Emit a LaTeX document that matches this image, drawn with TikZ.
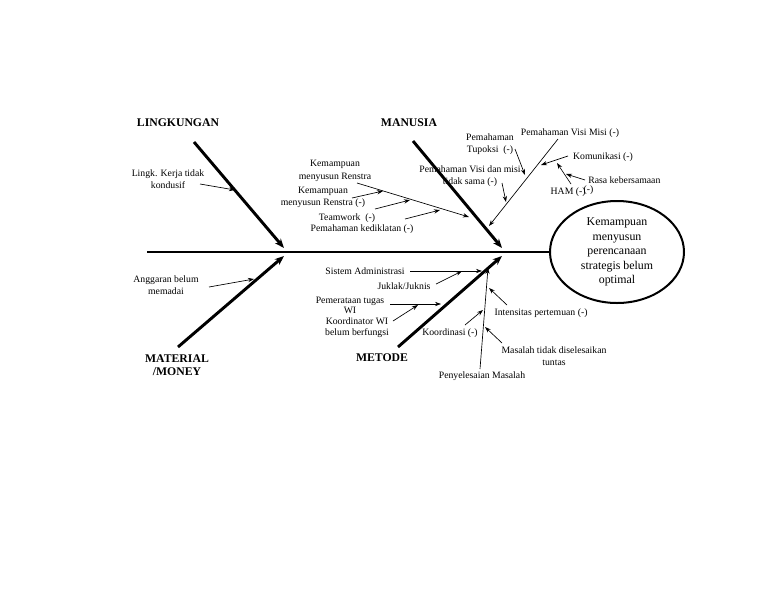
\documentclass[tikz,border=0pt]{standalone}
\usepackage{fontspec}
\setmainfont{Liberation Serif}
\usetikzlibrary{arrows.meta,shapes.geometric}
\begin{document}
\begin{tikzpicture}[x=0.75pt,y=-0.75pt,
 lbl/.style={font=\fontsize{7.3}{9.2}\selectfont, align=center, inner sep=0pt},
 hdr/.style={font=\fontsize{8.8}{9.75}\selectfont\bfseries, align=center, inner sep=0pt},
 bone/.style={line width=2.2pt, -{Stealth[length=7pt,width=5.5pt]}},
 sub/.style={line width=0.5pt, -{Stealth[length=4.5pt,width=3.2pt]}},
]
\useasboundingbox (0,0) rectangle (768,594);
% effect
\node[ellipse, draw, line width=1.5pt, minimum width=100.5pt, minimum height=76.5pt, inner sep=0pt,
      font=\fontsize{8.9}{10.9}\selectfont, align=center] (goal) at (617,252)
  {Kemampuan\\menyusun\\perencanaan\\strategis belum\\optimal};
\coordinate (spineL) at (147,252);
\draw[line width=2.2pt] (spineL) -- (goal.west);
% headers
\node[hdr] (hLing) at (178,123) {LINGKUNGAN};
\node[hdr] (hMan) at (409,123) {MANUSIA};
\node[hdr] (hMat) at (177,365.5) {MATERIAL\\/MONEY};
\node[hdr] (hMet) at (382,358) {METODE};
% main bones
\coordinate (lingS) at (194,142); \coordinate (lingE) at (284,248);
\coordinate (manS) at (413,141);  \coordinate (manE) at (502,248);
\coordinate (matS) at (178,347);  \coordinate (matE) at (284,256);
\coordinate (metS) at (398,347);  \coordinate (metE) at (502,256);
\draw[bone] (lingS) -- (lingE);
\draw[bone] (manS) -- (manE);
\draw[bone] (matS) -- (matE);
\draw[bone] (metS) -- (metE);
% LINGKUNGAN
\node[lbl] (tLing) at (168,179.5) {Lingk. Kerja tidak\\kondusif};
\coordinate (aLing1) at (200,184); \coordinate (aLing2) at (235,190);
\draw[sub] (aLing1) -- (aLing2);
% MATERIAL
\node[lbl] (tAng) at (166,285) {Anggaran belum\\memadai};
\coordinate (aAng1) at (209,287); \coordinate (aAng2) at (254,279);
\draw[sub] (aAng1) -- (aAng2);
% MANUSIA - Renstra
\node[lbl, font=\fontsize{7.3}{9.75}\selectfont] (tRen) at (335,170.5) {Kemampuan\\menyusun Renstra};
\coordinate (ren1) at (357,183); \coordinate (ren2) at (469,217);
\draw[sub] (ren1) -- (ren2);
\node[lbl] (tRen2) at (323,197.5) {Kemampuan\\menyusun Renstra (-)};
\coordinate (aRen1) at (352,198); \coordinate (aRen2) at (383,191);
\draw[sub] (aRen1) -- (aRen2);
\node[lbl] (tTeam) at (347,218) {Teamwork\ \ (-)};
\coordinate (aTeam1) at (375,209); \coordinate (aTeam2) at (410,200);
\draw[sub] (aTeam1) -- (aTeam2);
\node[lbl] (tDik) at (362,229) {Pemahaman kediklatan (-)};
\coordinate (aDik1) at (405,219); \coordinate (aDik2) at (440,210);
\draw[sub] (aDik1) -- (aDik2);
% MANUSIA - Visi Misi
\node[lbl] (tVM) at (570,133) {Pemahaman Visi Misi (-)};
\coordinate (vm1) at (558,139); \coordinate (vm2) at (489,226);
\draw[sub] (vm1) -- (vm2);
\node[lbl] (tTup) at (490,144) {Pemahaman\\Tupoksi\ \ (-)};
\coordinate (aTup1) at (515,149); \coordinate (aTup2) at (525,175);
\draw[sub] (aTup1) -- (aTup2);
\node[lbl] (tVdm) at (470,176) {Pemahaman Visi dan misi\\tidak sama (-)};
\coordinate (aVdm1) at (502,183); \coordinate (aVdm2) at (506,202);
\draw[sub] (aVdm1) -- (aVdm2);
\node[lbl] (tKom) at (603,157) {Komunikasi (-)};
\coordinate (aKom1) at (568,156); \coordinate (aKom2) at (541,165);
\draw[sub] (aKom1) -- (aKom2);
\node[lbl] (tHam) at (572,191) {HAM (-)\kern-1.5pt\raisebox{1pt}{(-)}};
\coordinate (ham1) at (571,184); \coordinate (ham2) at (557,163);
\draw[sub] (ham1) -- (ham2);
\node[lbl, anchor=west] (tRasa) at (588,180) {Rasa kebersamaan};
\coordinate (aRasa1) at (585,180); \coordinate (aRasa2) at (566,174);
\draw[sub] (aRasa1) -- (aRasa2);
% METODE
\node[lbl] (tSis) at (365,271) {Sistem Administrasi};
\coordinate (sis1) at (410,271); \coordinate (sis2) at (482,271);
\draw[sub] (sis1) -- (sis2);
\node[lbl] (tJuk) at (404,286) {Juklak/Juknis};
\coordinate (aJuk1) at (436,284); \coordinate (aJuk2) at (462,271);
\draw[sub] (aJuk1) -- (aJuk2);
\node[lbl, font=\fontsize{7.3}{7.6}\selectfont] (tPem) at (350,305.5) {Pemerataan tugas\\WI};
\coordinate (pem1) at (390,304); \coordinate (pem2) at (441,304);
\draw[sub] (pem1) -- (pem2);
\node[lbl, font=\fontsize{7.3}{8.3}\selectfont] (tKoor) at (357,328) {Koordinator WI\\belum berfungsi};
\coordinate (aKoor1) at (393,321); \coordinate (aKoor2) at (418,305);
\draw[sub] (aKoor1) -- (aKoor2);
\node[lbl] (tKrd) at (450,333) {Koordinasi (-)};
\coordinate (aKrd1) at (465,325); \coordinate (aKrd2) at (483,310);
\draw[sub] (aKrd1) -- (aKrd2);
\node[lbl] (tPen) at (482,376) {Penyelesaian Masalah};
\coordinate (pen1) at (480,369); \coordinate (pen2) at (488,268);
\draw[sub] (pen1) -- (pen2);
\node[lbl] (tInt) at (541,313) {Intensitas pertemuan (-)};
\coordinate (aInt1) at (507,305); \coordinate (aInt2) at (489,288);
\draw[sub] (aInt1) -- (aInt2);
\node[lbl] (tMas) at (554,356.5) {Masalah tidak diselesaikan\\tuntas};
\coordinate (aMas1) at (502,343); \coordinate (aMas2) at (485,327);
\draw[sub] (aMas1) -- (aMas2);
\end{tikzpicture}
\end{document}
